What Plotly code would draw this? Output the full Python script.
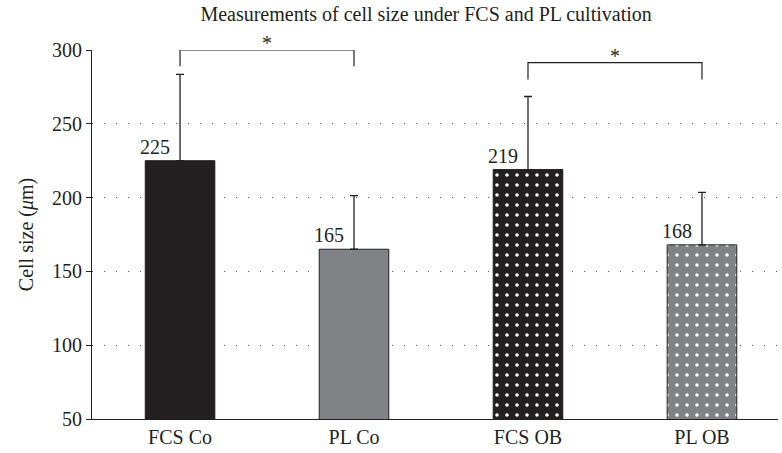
import plotly.graph_objects as go

categories = ["FCS Co", "PL Co", "FCS OB", "PL OB"]
means = [225, 165, 219, 168]
sd_upper = [58.5, 36.3, 49.5, 35.5]
bar_colors = ["#231f20", "#808285", "#231f20", "#808285"]
patterns = ["", "", ".", "."]
y_ticks = [50, 100, 150, 200, 250, 300]

# significance brackets: (left category, right category, top, leg bottom)
brackets = [("FCS Co", "PL Co", 300, 289), ("FCS OB", "PL OB", 291.5, 280)]

FONT = "Liberation Serif"
TXT = "#231f20"
FS = 20

fig = go.Figure()
for c, m, sd, col, pat in zip(categories, means, sd_upper, bar_colors, patterns):
    fig.add_trace(go.Bar(
        x=[c], y=[m], width=0.4,
        marker=dict(color=col, line=dict(color="#231f20", width=1),
                    pattern=dict(shape=pat, fgcolor="white", bgcolor=col,
                                 size=10, solidity=0.1, fillmode="replace")),
        error_y=dict(type="data", symmetric=False, array=[sd],
                     arrayminus=[0], color="#231f20",
                     thickness=1.3, width=4),
        showlegend=False,
    ))

for c, m in zip(categories, means):
    fig.add_annotation(x=c, y=m, text=str(m), showarrow=False,
                       xshift=-25, yanchor="bottom", yshift=1,
                       font=dict(family=FONT, size=FS, color=TXT))

for a, b, top, bot in brackets:
    fig.add_shape(type="path", xref="x", yref="y",
                  path=f"M {categories.index(a)},{bot} L {categories.index(a)},{top} "
                       f"L {categories.index(b)},{top} L {categories.index(b)},{bot}",
                  line=dict(color="#231f20", width=1.2))
    fig.add_annotation(x=(categories.index(a) + categories.index(b)) / 2, y=top,
                       text="*", showarrow=False, yanchor="bottom", yshift=-6,
                       font=dict(family=FONT, size=FS, color=TXT))

fig.update_layout(
    width=782, height=453,
    margin=dict(l=92, r=4, t=50, b=34),
    barmode="overlay",
    paper_bgcolor="white", plot_bgcolor="white",
    font=dict(family=FONT, size=FS, color=TXT),
    title=dict(text="Measurements of cell size under FCS and PL cultivation",
               x=0.487, xanchor="center", xref="paper", y=0.985, yanchor="top",
               font=dict(family=FONT, size=FS, color=TXT)),
    xaxis=dict(range=[-0.506, 3.437], showline=True, linecolor="#231f20",
               linewidth=1.2, ticks="", showgrid=False, zeroline=False,
               categoryorder="array", categoryarray=categories,
               tickfont=dict(family=FONT, size=FS, color=TXT)),
    yaxis=dict(range=[50, 300], tickvals=y_ticks, showline=True,
               linecolor="#231f20", linewidth=1.2, ticks="outside", ticklen=5,
               tickcolor="#231f20", tickwidth=1.2,
               showgrid=True, gridcolor="#555555", gridwidth=1,
               griddash="1px,11px", zeroline=False,
               title=dict(text="Cell size (<i>μ</i>m)", standoff=12,
                          font=dict(family=FONT, size=FS, color=TXT)),
               tickfont=dict(family=FONT, size=FS, color=TXT)),
)

fig.write_html("out.html")
